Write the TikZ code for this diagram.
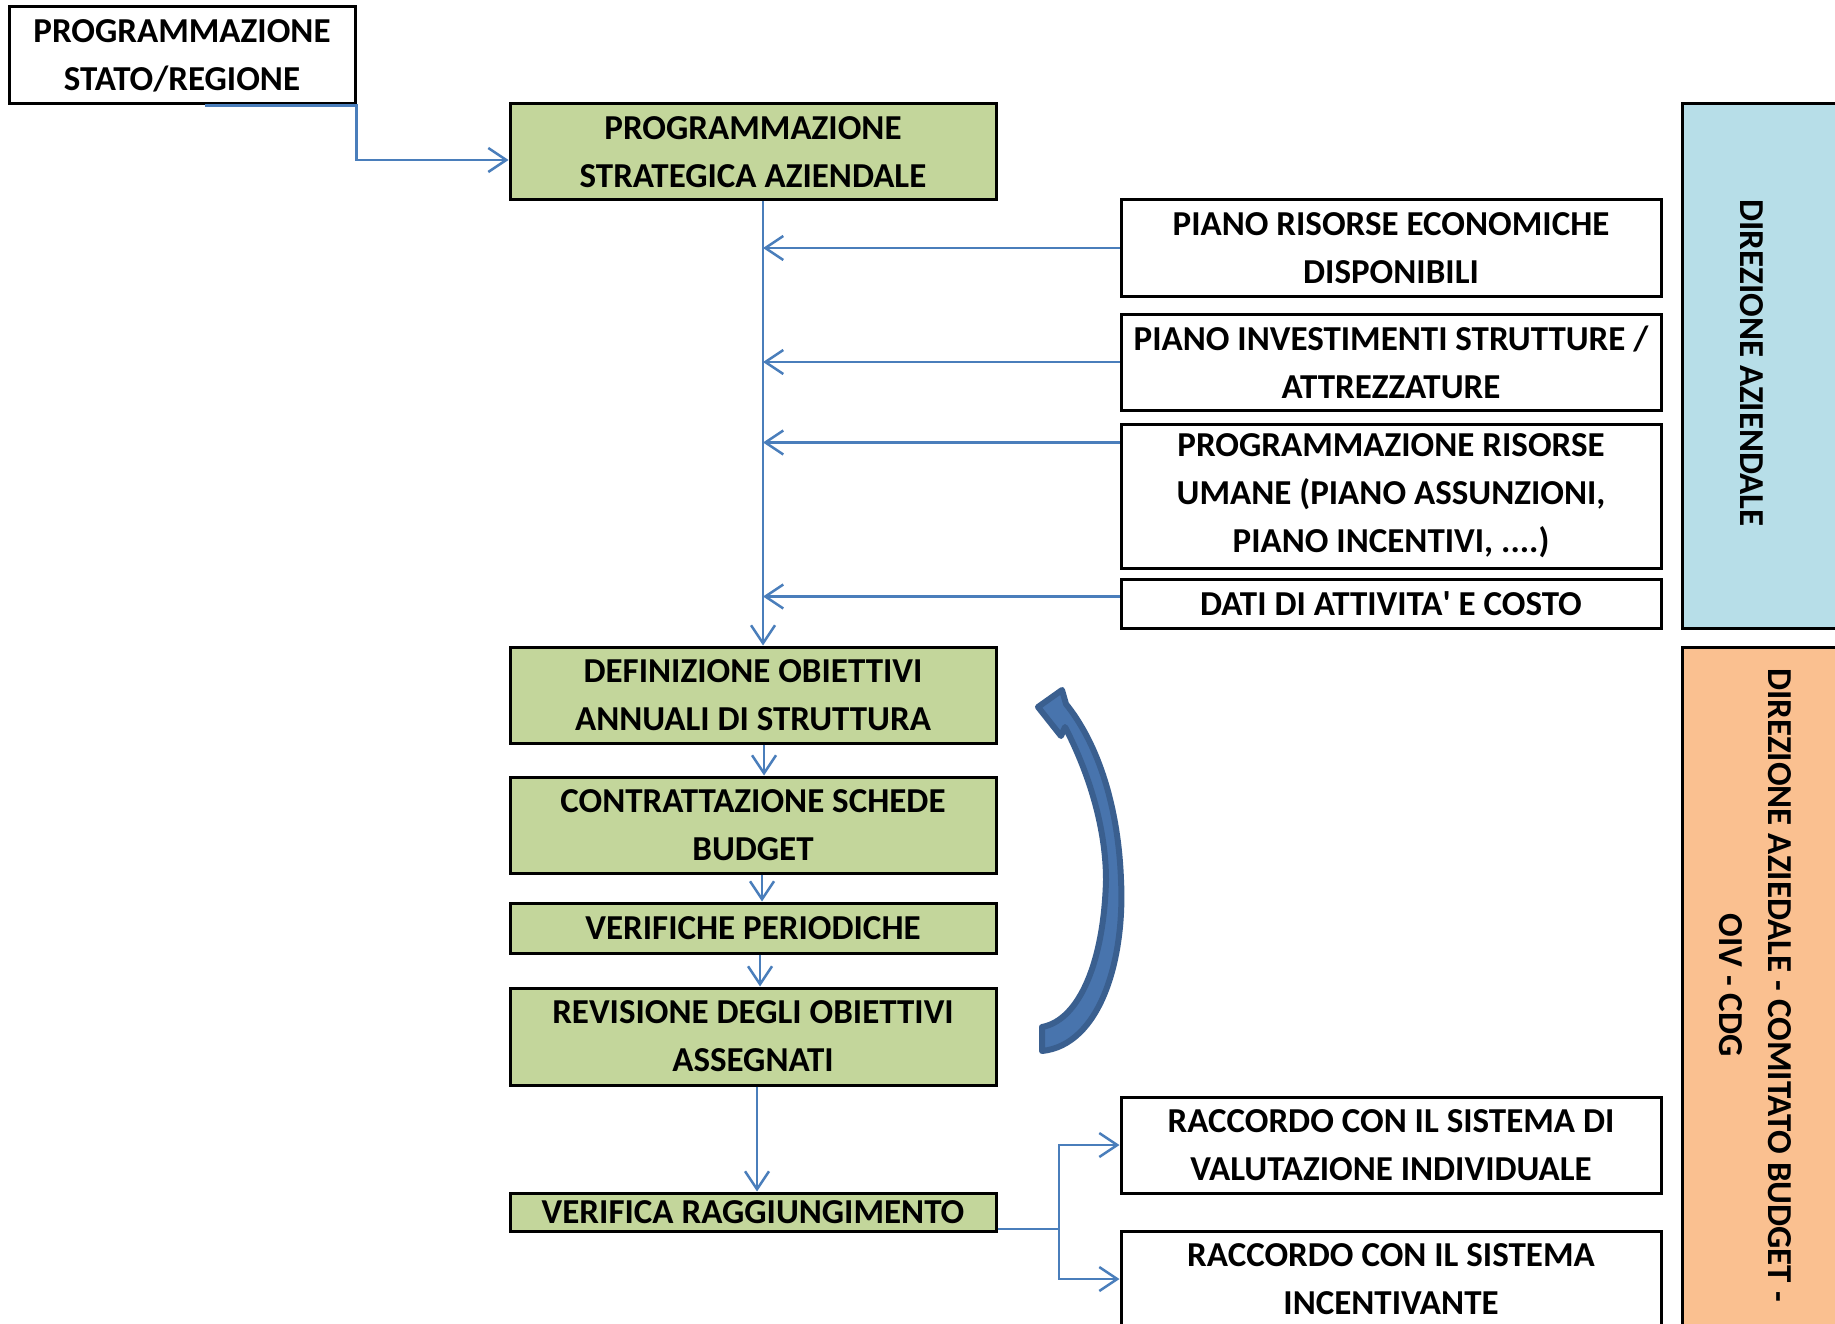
\documentclass[tikz,border=0pt]{standalone}
\usepackage{fontspec}
\setmainfont{Carlito}
\usetikzlibrary{arrows.meta}
\definecolor{boxgreen}{HTML}{C3D69B}
\definecolor{panelblue}{HTML}{B7DEE8}
\definecolor{panelorange}{HTML}{FAC090}
\definecolor{linkblue}{HTML}{4A7EBB}
\definecolor{loopblue}{HTML}{4874AD}
\definecolor{loopdark}{HTML}{3A5F8F}
\tikzstyle{box} = [rectangle, draw=black, line width=3pt, fill=white, inner sep=0pt, align=center, font=\fontsize{35}{48}\selectfont\bfseries]
\tikzstyle{gbox} = [box, fill=boxgreen, minimum width=486pt]
\tikzstyle{rbox} = [box, minimum width=540pt]
\tikzstyle{panel} = [draw=black, line width=3pt]
\tikzstyle{sidetext} = [rotate=-90, align=center, inner sep=0pt, font=\fontsize{35}{49}\selectfont\bfseries]
\tikzstyle{arrow} = [draw=linkblue, line width=2.5pt, -{Straight Barb[length=18pt,width=24pt]}]

\begin{document}
\begin{tikzpicture}[x=1pt, y=-1pt]
    \useasboundingbox (0,0) rectangle (1835,1324);
    \clip (0,0) rectangle (1835,1324);

    \draw[panel, fill=panelblue] (1682,104) rectangle (1900,628);
    \draw[panel, fill=panelorange] (1682,647) rectangle (1900,1400);
    \node (dirAz) [sidetext] at (1752,363) {DIREZIONE AZIENDALE};
    \node (comitato) [sidetext] at (1755,985) {DIREZIONE AZIEDALE - COMITATO BUDGET -\\OIV - CDG};

    \node (stato) [box, minimum width=346pt, minimum height=97pt] at (182,55.5) {PROGRAMMAZIONE\\STATO/REGIONE};
    \node (strat) [gbox, minimum height=96pt] at (753,152) {PROGRAMMAZIONE\\STRATEGICA AZIENDALE};
    \node (risEco) [rbox, minimum height=96pt] at (1391,248) {PIANO RISORSE ECONOMICHE\\DISPONIBILI};
    \node (invest) [rbox, minimum height=96pt] at (1391,362) {PIANO INVESTIMENTI STRUTTURE /\\ATTREZZATURE};
    \node (umane) [rbox, minimum height=144pt] at (1391,496) {PROGRAMMAZIONE RISORSE\\UMANE (PIANO ASSUNZIONI,\\PIANO INCENTIVI, ....)};
    \node (dati) [rbox, minimum height=49pt] at (1391,603.5) {DATI DI ATTIVITA\textquotesingle{} E COSTO};
    \node (defin) [gbox, minimum height=96pt] at (753,695) {DEFINIZIONE OBIETTIVI\\ANNUALI DI STRUTTURA};
    \node (contr) [gbox, minimum height=96pt] at (753,825) {CONTRATTAZIONE SCHEDE\\BUDGET};
    \node (verif) [gbox, minimum height=50pt] at (753,928) {VERIFICHE PERIODICHE};
    \node (revis) [gbox, minimum height=97pt] at (753,1036.5) {REVISIONE DEGLI OBIETTIVI\\ASSEGNATI};
    \node (ragg) [gbox, minimum height=38pt] at (753,1212) {VERIFICA RAGGIUNGIMENTO};
    \node (raccVal) [rbox, minimum height=96pt] at (1391,1145) {RACCORDO CON IL SISTEMA DI\\VALUTAZIONE INDIVIDUALE};
    \node (raccInc) [rbox, minimum height=96pt] at (1391,1279) {RACCORDO CON IL SISTEMA\\INCENTIVANTE};

    \coordinate (fork) at (1059,1229);

    \draw[arrow] ([xshift=23pt]stato.south) -- (stato.south east) |- ([yshift=-8pt]strat.west);
    \draw[arrow] ([xshift=10pt]strat.south) -- ([xshift=10pt]defin.north);
    \draw[arrow] (risEco.west) -- ([xshift=10pt]risEco.west -| defin.north);
    \draw[arrow] (invest.west) -- ([xshift=10pt]invest.west -| defin.north);
    \draw[arrow] ([yshift=-20pt]umane.north west) -- ([xshift=10pt,yshift=-20pt]umane.north west -| defin.north);
    \draw[arrow] ([yshift=7pt]dati.west) -- ([xshift=10pt,yshift=7pt]dati.west -| defin.north);
    \draw[arrow] ([xshift=11pt]defin.south) -- ([xshift=11pt]contr.north);
    \draw[arrow] ([xshift=9pt]contr.south) -- ([xshift=9pt]verif.north);
    \draw[arrow] ([xshift=7pt]verif.south) -- ([xshift=7pt]revis.north);
    \draw[arrow] ([xshift=4pt]revis.south) -- ([xshift=4pt]ragg.north);
    \draw[draw=linkblue, line width=2.5pt] (ragg.east |- fork) -- (fork);
    \draw[arrow] (fork) |- (raccVal.west);
    \draw[arrow] (fork) |- (raccInc.west);

    \filldraw[fill=loopblue, draw=loopdark, line width=6pt, line join=round]
        (1042,1027) -- (1042,1051)
        .. controls (1100,1045) and (1125,960) .. (1121,880)
        .. controls (1118,800) and (1095,740) .. (1066,704)
        -- (1062,690) -- (1038,707) -- (1061,736) -- (1065,727)
        .. controls (1090,775) and (1106,830) .. (1106,880)
        .. controls (1104,960) and (1080,1020) .. (1042,1027) -- cycle;
\end{tikzpicture}
\end{document}
